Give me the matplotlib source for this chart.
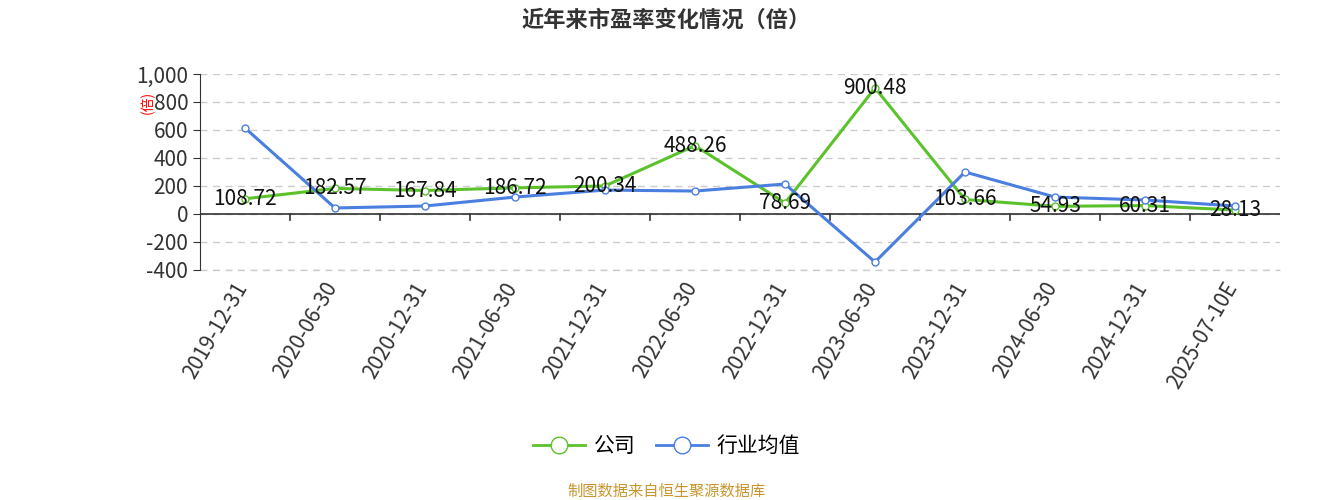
import matplotlib
matplotlib.use('Agg')
import matplotlib.pyplot as plt
from matplotlib.lines import Line2D

plt.rcParams['font.family'] = ['Noto Sans CJK SC', 'DejaVu Sans']

# ---------- data ----------
dates = ['2019-12-31', '2020-06-30', '2020-12-31', '2021-06-30', '2021-12-31', '2022-06-30',
         '2022-12-31', '2023-06-30', '2023-12-31', '2024-06-30', '2024-12-31', '2025-07-10E']
company = [108.72, 182.57, 167.84, 186.72, 200.34, 488.26, 78.69, 900.48, 103.66, 54.93, 60.31, 28.13]
industry = [614, 43, 57, 121, 171, 164, 214, -343, 300, 121, 100, 57]

green = '#5cc22c'
blue = '#4a7fe0'

fig = plt.figure(figsize=(13.33, 5), dpi=100)
ax = fig.add_axes([200/1333, 1 - 270/500, 1080/1333, 196/500])
x = range(len(dates))

ax.plot(x, company, color=green, lw=2.2, marker='o', ms=5, mfc='white', mec=green, zorder=3)
ax.plot(x, industry, color=blue, lw=2.2, marker='o', ms=5, mfc='white', mec=blue, zorder=4)
for i, v in enumerate(company):
    ax.text(i, v, f'{v:.2f}', ha='center', va='center', fontsize=15, color='#111111', zorder=5)

ax.set_xlim(-0.5, len(dates) - 0.5)
ax.set_ylim(-400, 1000)
ax.set_yticks(range(-400, 1001, 200))
ax.set_yticklabels(['-400', '-200', '0', '200', '400', '600', '800', '1,000'], fontsize=15, color='#333333')
ax.yaxis.grid(True, ls=(0, (5, 4)), color='#cccccc', lw=1)
ax.set_axisbelow(True)
for s in ['top', 'right', 'bottom']:
    ax.spines[s].set_visible(False)
ax.spines['left'].set_color('#333333')
ax.axhline(0, color='#333333', lw=1.2, zorder=2)
ax.axhline(-400, color='#cccccc', lw=1, ls=(0, (5, 4)), zorder=1, clip_on=False)
ax.tick_params(axis='y', length=5, color='#333333')

# category labels + boundary ticks on zero line
ax.set_xticks(list(x))
ax.set_xticklabels([])
ax.tick_params(axis='x', length=0)
for i, d in enumerate(dates):
    ax.text(i + 0.08, -460, d, rotation=60, ha='right', va='top', fontsize=15, color='#333333')
for b in range(1, len(dates)):
    ax.plot([b - 0.5, b - 0.5], [0, -40], color='#333333', lw=1.2, clip_on=False)

fig.text(148/1333, 1 - 102/500, '(倍)', rotation=90, color='red', fontsize=10, ha='center', va='center')
fig.text(0.5, 1 - 20/500, '近年来市盈率变化情况（倍）', ha='center', va='center', fontsize=16,
         fontweight='bold', color='#333333')

handles = [Line2D([], [], color=green, lw=2, marker='o', ms=12, mfc='white', mec=green),
           Line2D([], [], color=blue, lw=2, marker='o', ms=12, mfc='white', mec=blue)]
fig.legend(handles, ['公司', '行业均值'], loc='center', bbox_to_anchor=(0.5, 1 - 446/500), ncol=2,
           frameon=False, fontsize=15, handlelength=2.5, columnspacing=1.0, handletextpad=0.4)
fig.text(0.5, 1 - 491/500, '制图数据来自恒生聚源数据库', ha='center', va='center', fontsize=11, color='#c8962d')

fig.savefig('out.png', dpi=100)
